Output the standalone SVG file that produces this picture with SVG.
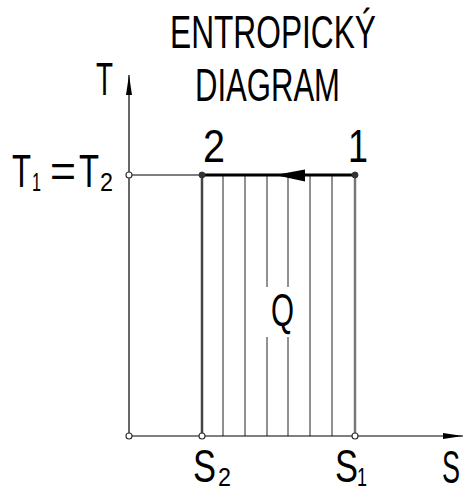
<svg xmlns="http://www.w3.org/2000/svg" width="463" height="491" viewBox="0 0 463 491">
<defs>
<style>
.t{font-family:"Liberation Sans Narrow","Liberation Sans",Arial,sans-serif;fill:#000;}
.big{font-size:46px;}
.sub{font-size:25px;}
.ax{stroke:#000;stroke-width:1.2;fill:none;}
.h{stroke:#222;stroke-width:1;fill:none;}
.pt{fill:#fff;stroke:#333;stroke-width:1.2;}
.pf{fill:#333;stroke:#333;stroke-width:1;}
</style>
<marker id="arr" viewBox="0 0 20 6" refX="20" refY="3" markerWidth="20" markerHeight="6" markerUnits="userSpaceOnUse" orient="auto">
<path d="M0,0 L20,3 L0,6 Z" fill="#000"/>
</marker>
</defs>
<rect width="463" height="491" fill="#fff"/>
<g id="title">
<text class="t big" x="170" y="48" style="font-size:47px" textLength="206" lengthAdjust="spacingAndGlyphs">ENTROPICKÝ</text>
<text class="t big" x="195" y="101" style="font-size:47px" textLength="145" lengthAdjust="spacingAndGlyphs">DIAGRAM</text>
</g>
<g id="hatch">
<line class="h" x1="223" y1="175" x2="223" y2="436"/>
<line class="h" x1="245" y1="175" x2="245" y2="436"/>
<line class="h" x1="267" y1="175" x2="267" y2="287"/>
<line class="h" x1="267" y1="337" x2="267" y2="436"/>
<line class="h" x1="288" y1="175" x2="288" y2="287"/>
<line class="h" x1="288" y1="337" x2="288" y2="436"/>
<line class="h" x1="310" y1="175" x2="310" y2="436"/>
<line class="h" x1="332" y1="175" x2="332" y2="436"/>
</g>
<g id="connectors">
<line class="ax" x1="129" y1="437" x2="129" y2="75" marker-end="url(#arr)"/>
<line class="ax" x1="129" y1="436" x2="463" y2="436" marker-end="url(#arr)"/>
<line class="ax" x1="129" y1="175" x2="202" y2="175"/>
<line x1="202" y1="175" x2="202" y2="436" stroke="#444" stroke-width="2.5"/>
<line x1="355" y1="175" x2="355" y2="436" stroke="#777" stroke-width="2.5"/>
<line x1="202" y1="175" x2="355" y2="175" stroke="#000" stroke-width="3"/>
<polygon points="275,175 305,169.5 305,181.5" fill="#000"/>
</g>
<g id="points">
<circle class="pt" cx="129" cy="175" r="3"/>
<circle class="pt" cx="129" cy="436" r="3"/>
<circle class="pt" cx="202" cy="436" r="3"/>
<circle class="pt" cx="355" cy="436" r="3"/>
<circle class="pf" cx="202" cy="175" r="3"/>
<circle class="pf" cx="355" cy="175" r="3"/>
</g>
<g id="labels">
<text class="t big" x="96" y="95" textLength="17" lengthAdjust="spacingAndGlyphs">T</text>
<text class="t big" y="187"><tspan x="12" textLength="19" lengthAdjust="spacingAndGlyphs">T</tspan><tspan class="sub" x="32" y="191" textLength="9" lengthAdjust="spacingAndGlyphs">1</tspan><tspan x="50" y="187" textLength="26" lengthAdjust="spacingAndGlyphs">=</tspan><tspan x="79" textLength="20" lengthAdjust="spacingAndGlyphs">T</tspan><tspan class="sub" x="100" y="191" textLength="13" lengthAdjust="spacingAndGlyphs">2</tspan></text>
<text class="t big" x="203" y="162" textLength="22" lengthAdjust="spacingAndGlyphs">2</text>
<text class="t big" x="348" y="162" textLength="20" lengthAdjust="spacingAndGlyphs">1</text>
<text class="t big" x="271" y="326" textLength="23" lengthAdjust="spacingAndGlyphs">Q</text>
<text class="t big" x="193" y="482"><tspan textLength="23" lengthAdjust="spacingAndGlyphs">S</tspan><tspan class="sub" x="218" y="486" textLength="13" lengthAdjust="spacingAndGlyphs">2</tspan></text>
<text class="t big" x="335" y="482"><tspan textLength="23" lengthAdjust="spacingAndGlyphs">S</tspan><tspan class="sub" x="357" y="486" textLength="10" lengthAdjust="spacingAndGlyphs">1</tspan></text>
<text class="t big" x="442" y="483" textLength="18" lengthAdjust="spacingAndGlyphs">S</text>
</g>
</svg>
